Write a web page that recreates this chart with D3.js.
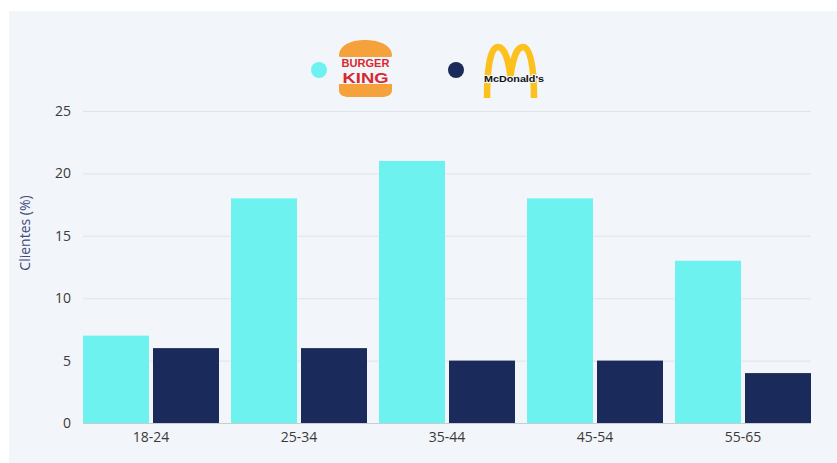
<!DOCTYPE html>
<html>
<head>
<meta charset="utf-8">
<script src="https://cdn.jsdelivr.net/npm/d3@7"></script>
<style>
  body { margin: 0; background: #ffffff; }
  svg { display: block; font-family: "Open Sans", sans-serif; }
</style>
</head>
<body>
<script>
var ageGroups = ["18-24", "25-34", "35-44", "45-54", "55-65"];
var burgerKing = [7, 18, 21, 18, 13];
var mcDonalds = [6, 6, 5, 5, 4];
var yTicks = [0, 5, 10, 15, 20, 25];
var seriesNames = ["Burger King", "McDonald's"];
var seriesColors = ["#6ef2f0", "#1a2a5a"];

var w = 837, h = 463;
var margin = {top: 111, right: 26, bottom: 40, left: 83};

var svg = d3.select("body")
    .append("svg")
    .attr("width", w)
    .attr("height", h);

svg.append("rect")
    .attr("x", 9)
    .attr("y", 11)
    .attr("width", w - 9)
    .attr("height", h - 11)
    .style("fill", "#f2f5f9");

var rows = ageGroups.map(function(g, i){
    return {group: g, values: [burgerKing[i], mcDonalds[i]]};
});

var x0 = d3.scaleBand()
    .domain(ageGroups)
    .range([margin.left, 811])
    .paddingInner(12 / 148)
    .paddingOuter(0);

var x1 = d3.scaleBand()
    .domain([0, 1])
    .range([0, x0.bandwidth()])
    .paddingInner(4 / 70);

var y = d3.scaleLinear()
    .domain([0, 25])
    .range([423, margin.top]);

// grid
svg.append("g")
    .selectAll("line")
    .data(yTicks.slice(1))
    .enter()
    .append("line")
    .attr("x1", margin.left)
    .attr("x2", 811)
    .attr("y1", function(d){ return y(d) + 0.5; })
    .attr("y2", function(d){ return y(d) + 0.5; })
    .style("stroke", "#e0e4ea")
    .style("stroke-width", 1);

// bars
var groups = svg.selectAll(".group")
    .data(rows)
    .enter()
    .append("g")
    .attr("class", "group")
    .attr("transform", function(d){ return "translate(" + x0(d.group) + ",0)"; });

groups.selectAll("rect")
    .data(function(d){ return d.values; })
    .enter()
    .append("rect")
    .attr("x", function(d, i){ return x1(i); })
    .attr("width", x1.bandwidth())
    .attr("y", function(d){ return y(d); })
    .attr("height", function(d){ return y(0) - y(d); })
    .style("fill", function(d, i){ return seriesColors[i]; });

// baseline
svg.append("line")
    .attr("x1", margin.left)
    .attr("x2", 811)
    .attr("y1", y(0) + 0.5)
    .attr("y2", y(0) + 0.5)
    .style("stroke", "#c9cdd3");

// y axis
var yAxis = d3.axisLeft(y)
    .tickValues(yTicks)
    .tickSize(0)
    .tickPadding(0);

var ya = svg.append("g")
    .attr("transform", "translate(71,0)")
    .call(yAxis);
ya.select(".domain").remove();
ya.selectAll("text")
    .style("font-size", "14px")
    .style("fill", "#3a3a3a")
    .style("font-family", "'Open Sans', sans-serif");

// x axis
var xAxis = d3.axisBottom(x0)
    .tickSize(0)
    .tickPadding(0);

var xa = svg.append("g")
    .attr("transform", "translate(0,432)")
    .call(xAxis);
xa.select(".domain").remove();
xa.selectAll("text")
    .style("font-size", "14px")
    .style("fill", "#3a3a3a")
    .style("font-family", "'Open Sans', sans-serif");

svg.append("text")
    .attr("transform", "translate(30,233) rotate(-90)")
    .attr("text-anchor", "middle")
    .style("font-size", "14px")
    .style("fill", "#3c4a7c")
    .text("Clientes (%)");

// legend
var legendX = [319, 456];
svg.selectAll(".dot")
    .data(seriesNames)
    .enter()
    .append("circle")
    .attr("class", "dot")
    .attr("cx", function(d, i){ return legendX[i]; })
    .attr("cy", 70)
    .attr("r", 8)
    .style("fill", function(d, i){ return seriesColors[i]; });

// burger king logo
var bk = svg.append("g").attr("transform", "translate(337,40)");
bk.append("path")
    .attr("d", "M2,16 C2,4 16,0 28,0 C40,0 55,4 55,16 Q55,17 53,17 L4,17 Q2,17 2,16 Z")
    .style("fill", "#f5a23c");
bk.append("path")
    .attr("d", "M2,44 L55,44 L55,50 C55,55 50,57 45,57 L12,57 C6,57 2,55 2,50 Z")
    .style("fill", "#f5a23c");
bk.append("text")
    .attr("x", 28.5)
    .attr("y", 27)
    .attr("text-anchor", "middle")
    .style("font-family", "'Liberation Sans', Arial, sans-serif")
    .style("font-weight", "bold")
    .style("font-size", "11px")
    .style("fill", "#d8282f")
    .attr("textLength", 48)
    .attr("lengthAdjust", "spacingAndGlyphs")
    .text("BURGER");
bk.append("text")
    .attr("x", 28.5)
    .attr("y", 43)
    .attr("text-anchor", "middle")
    .style("font-family", "'Liberation Sans', Arial, sans-serif")
    .style("font-weight", "bold")
    .style("font-size", "15px")
    .style("fill", "#d8282f")
    .attr("textLength", 46)
    .attr("lengthAdjust", "spacingAndGlyphs")
    .text("KING");

// mcdonald's logo
var mc = svg.append("g").attr("transform", "translate(483,45)");
mc.append("path")
    .attr("d", "M4,53 C4,20 8,2 15,2 C22,2 26,18 27.5,32 C29,18 33,2 40,2 C47,2 51,20 51,53")
    .style("fill", "none")
    .style("stroke", "#fcc11c")
    .style("stroke-width", 6.5);
mc.append("text")
    .attr("x", 31)
    .attr("y", 37)
    .attr("text-anchor", "middle")
    .style("font-family", "'Liberation Sans', Arial, sans-serif")
    .style("font-weight", "bold")
    .style("font-size", "9px")
    .style("fill", "#111")
    .style("stroke", "#f2f5f9")
    .style("stroke-width", 2)
    .style("paint-order", "stroke")
    .attr("textLength", 60)
    .attr("lengthAdjust", "spacingAndGlyphs")
    .text("McDonald's");
</script>
</body>
</html>
